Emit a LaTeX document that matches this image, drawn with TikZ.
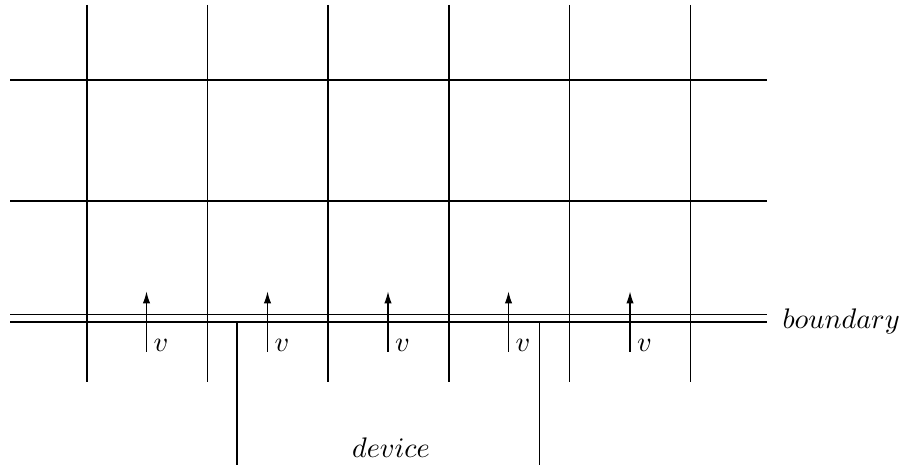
\documentclass[tikz,border=0pt]{standalone}
\usetikzlibrary{arrows.meta}
\begin{document}
\begin{tikzpicture}[x=0.012427cm,y=-0.012427cm,
  gridline/.style={line width=0.4pt},
  flow/.style={line width=0.4pt,-{Latex[length=4.2pt,width=2.6pt]}},
  lbl/.style={inner sep=0pt}]
\useasboundingbox (0,0) rectangle (904,465);
% vertical grid lines
\foreach \x in {87,207.5,328,449,569.5,690.5}
  \draw[gridline] (\x,5) -- (\x,382);
% horizontal grid lines
\foreach \y in {80,201}
  \draw[gridline] (10,\y) -- (767,\y);
% boundary (double line)
\coordinate (bl) at (10,322);
\coordinate (br) at (767,322);
\draw[gridline] (10,314.5) -- (767,314.5);
\draw[gridline] (bl) -- (br);
\node[lbl,anchor=base west] (boundary) at (782,329) {$boundary$};
% velocity arrows
\foreach \x [count=\i] in {146.5,267.5,388,508.5,630} {
  \coordinate (s\i) at (\x,352);
  \coordinate (t\i) at (\x,291.5);
  \draw[flow] (s\i) -- (t\i);
  \node[lbl,anchor=base west] (v\i) at (\x+6.5,352) {$v$};
}
% device
\coordinate (d1t) at (237,322);
\coordinate (d1b) at (237,465);
\coordinate (d2t) at (539.5,322);
\coordinate (d2b) at (539.5,465);
\draw[gridline] (d1t) -- (d1b);
\draw[gridline] (d2t) -- (d2b);
\node[lbl,anchor=base] (device) at (391,457) {$device$};
\end{tikzpicture}
\end{document}
